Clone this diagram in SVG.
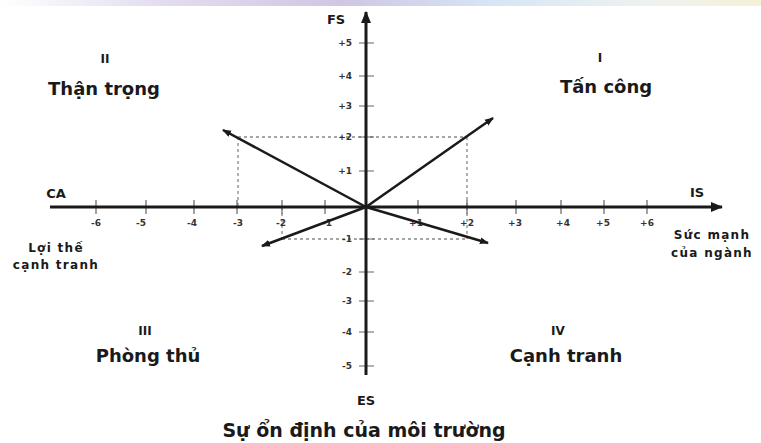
<svg xmlns="http://www.w3.org/2000/svg" width="761" height="443" viewBox="0 0 761 443">
<defs>
<linearGradient id="band" x1="0" y1="0" x2="1" y2="0">
<stop offset="0" stop-color="#ffffff"/>
<stop offset="0.2" stop-color="#e4def0"/>
<stop offset="0.45" stop-color="#cfc6e4"/>
<stop offset="0.65" stop-color="#d6e6f6"/>
<stop offset="0.85" stop-color="#eef2f0"/>
<stop offset="1" stop-color="#f6f0d8"/>
</linearGradient>
<marker id="axisHead" markerUnits="userSpaceOnUse" markerWidth="12" markerHeight="10" refX="11" refY="5" orient="auto">
<path d="M0,0 L12,5 L0,10 Z" fill="#1a1a1a"/>
</marker>
<marker id="vecHead" markerUnits="userSpaceOnUse" markerWidth="9" markerHeight="8" refX="8" refY="4" orient="auto">
<path d="M0,0.5 L9,4 L0,7.5 Z" fill="#1a1a1a"/>
</marker>
<style>
text{font-family:"DejaVu Sans","Liberation Sans",sans-serif;font-weight:bold;fill:#1a1a1a}
.axis{stroke:#1a1a1a;stroke-width:3;fill:none}
.vec{stroke:#1a1a1a;stroke-width:2.5;fill:none}
.dot{stroke:#888;stroke-width:1.3;stroke-dasharray:3 3;fill:none}
.tick{stroke:#666;stroke-width:1.2}
.tl{font-size:9px;fill:#333}
.big{font-size:18px}
.num{font-size:12px}
.ax{font-size:13px}
.small{font-size:12px;letter-spacing:1.3px}
</style>
</defs>
<rect x="0" y="0" width="761" height="6" fill="url(#band)"/>

<g id="guides">
<path class="dot" d="M238,137 H467 M238,137 V207 M467,137 V207"/>
<path class="dot" d="M282,239 H467 M282,207 V239 M467,207 V239"/>
</g>

<g id="ticks">
<path class="tick" d="M96,200 V214 M146,200 V214 M194,200 V214 M237,200 V214 M282,200 V214 M325,200 V214 M418,200 V214 M467,200 V214 M516,200 V214 M561,200 V214 M604,200 V214 M647,200 V214"/>
<path class="tick" d="M359,43 H374 M359,76 H374 M359,106 H374 M359,137 H374 M359,171 H374 M359,239 H374 M359,272 H374 M359,301 H374 M359,332 H374 M359,366 H374"/>
<g class="tl" text-anchor="middle">
<text class="tl" x="96" y="226">-6</text>
<text class="tl" x="141" y="226">-5</text>
<text class="tl" x="192" y="226">-4</text>
<text class="tl" x="238" y="226">-3</text>
<text class="tl" x="281" y="226">-2</text>
<text class="tl" x="327" y="226">-1</text>
<text class="tl" x="416" y="226">+1</text>
<text class="tl" x="467" y="226">+2</text>
<text class="tl" x="515" y="226">+3</text>
<text class="tl" x="563" y="226">+4</text>
<text class="tl" x="603" y="226">+5</text>
<text class="tl" x="647" y="226">+6</text>
</g>
<g text-anchor="end">
<text class="tl" x="352" y="46">+5</text>
<text class="tl" x="352" y="79">+4</text>
<text class="tl" x="352" y="109">+3</text>
<text class="tl" x="352" y="140">+2</text>
<text class="tl" x="352" y="174">+1</text>
<text class="tl" x="352" y="242">-1</text>
<text class="tl" x="352" y="275">-2</text>
<text class="tl" x="352" y="304">-3</text>
<text class="tl" x="352" y="335">-4</text>
<text class="tl" x="352" y="369">-5</text>
</g>
</g>

<g id="connectors">
<line id="axis-x" class="axis" x1="50" y1="207" x2="722" y2="207" marker-end="url(#axisHead)"/>
<line id="axis-y" class="axis" x1="366" y1="375" x2="366" y2="12" marker-end="url(#axisHead)"/>
<line id="vec-ii" class="vec" x1="366" y1="207" x2="223" y2="130" marker-end="url(#vecHead)"/>
<line id="vec-i" class="vec" x1="366" y1="207" x2="493" y2="118" marker-end="url(#vecHead)"/>
<line id="vec-iii" class="vec" x1="366" y1="207" x2="262" y2="246" marker-end="url(#vecHead)"/>
<line id="vec-iv" class="vec" x1="366" y1="207" x2="488" y2="243" marker-end="url(#vecHead)"/>
</g>

<g id="axis-labels">
<text class="ax" x="336" y="24" text-anchor="middle">FS</text>
<text class="ax" x="366" y="405" text-anchor="middle">ES</text>
<text class="ax" x="56" y="198" text-anchor="middle">CA</text>
<text class="ax" x="697" y="197" text-anchor="middle">IS</text>
</g>

<g id="q2" text-anchor="middle">
<text class="num" x="105" y="63">II</text>
<text class="big" x="104" y="95">Thận trọng</text>
</g>
<g id="q1" text-anchor="middle">
<text class="num" x="600" y="62">I</text>
<text class="big" x="606" y="93">Tấn công</text>
</g>
<g id="q3" text-anchor="middle">
<text class="num" x="145" y="335">III</text>
<text class="big" x="148" y="362">Phòng thủ</text>
</g>
<g id="q4" text-anchor="middle">
<text class="num" x="558" y="335">IV</text>
<text class="big" x="566" y="362">Cạnh tranh</text>
</g>

<g id="ca-label" text-anchor="middle">
<text class="small" x="56" y="252">Lợi thế</text>
<text class="small" x="56" y="269">cạnh tranh</text>
</g>
<g id="is-label" text-anchor="middle">
<text class="small" x="712" y="239">Sức mạnh</text>
<text class="small" x="712" y="257">của ngành</text>
</g>
<g id="es-label" text-anchor="middle">
<text style="font-size:19px" x="364" y="437">Sự ổn định của môi trường</text>
</g>
</svg>
